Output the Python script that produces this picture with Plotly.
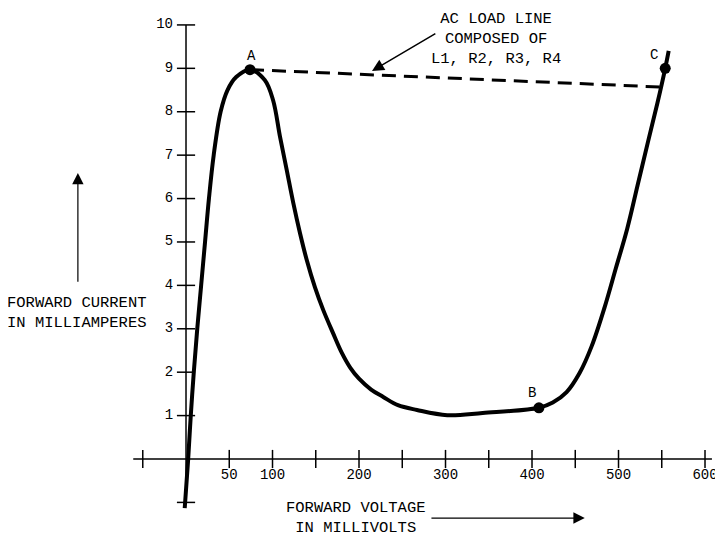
import plotly.graph_objects as go

# tunnel diode forward characteristic
voltage_mv = [-1.5, 2.5, 5.5, 9, 13, 17.5, 22, 26.5, 32, 40, 48, 58, 74, 91, 100.6, 108.7,
              116.4, 124, 131.8, 139.5, 149, 158.7, 170, 180, 190, 200, 214, 228, 245, 267,
              302, 343, 408, 424, 440, 455, 469, 484, 497, 510, 522, 534, 545, 554, 558]
current_ma = [-1.13, 0, 1, 2, 3, 4, 5, 6, 7, 8, 8.5, 8.8, 8.97, 8.73, 8.27, 7.42,
              6.66, 5.9, 5.2, 4.59, 3.96, 3.43, 2.9, 2.45, 2.1, 1.85, 1.6, 1.43, 1.24, 1.13,
              1.01, 1.06, 1.18, 1.3, 1.54, 1.98, 2.6, 3.5, 4.4, 5.3, 6.3, 7.3, 8.2, 9.0, 9.4]

# operating points
point_names = ["A", "B", "C"]
point_v = [74, 408, 554]
point_i = [8.97, 1.18, 9.0]

# ac load line
load_v = [74, 548]
load_i = [8.97, 8.57]

# axis extents and ticks
x_axis_span = [-61, 608]
y_axis_span = [-1, 10]
x_tick_vals = [-50, 50, 100, 150, 200, 250, 300, 350, 400, 450, 500, 550, 600]
x_label_vals = [50, 100, 200, 300, 400, 500, 600]
x_label_text = ["50", "100", "200", "300", "400", "500", "600"]
y_tick_vals = [-1, 1, 2, 3, 4, 5, 6, 7, 8, 9, 10]
y_label_vals = [1, 2, 3, 4, 5, 6, 7, 8, 9, 10]
y_label_text = ["1", "2", "3", "4", "5", "6", "7", "8", "9", "10"]

FONT = "Liberation Mono"
INK = "black"

fig = go.Figure()

# hand-drawn style axes crossing at the origin
fig.add_trace(go.Scatter(x=x_axis_span, y=[0, 0], mode="lines",
                         line=dict(color=INK, width=1.5)))
fig.add_trace(go.Scatter(x=[0, 0], y=y_axis_span, mode="lines",
                         line=dict(color=INK, width=1.5)))
fig.add_trace(go.Scatter(x=x_tick_vals, y=[0] * len(x_tick_vals), mode="markers",
                         marker=dict(symbol="line-ns", size=13,
                                     line=dict(color=INK, width=1.5))))
fig.add_trace(go.Scatter(x=[0] * len(y_tick_vals), y=y_tick_vals, mode="markers",
                         marker=dict(symbol="line-ew", size=13,
                                     line=dict(color=INK, width=1.5))))
fig.add_trace(go.Scatter(x=x_label_vals, y=[-0.38] * len(x_label_vals), mode="text",
                         text=x_label_text, textposition="middle center", cliponaxis=False,
                         textfont=dict(family=FONT, size=14, color=INK)))
fig.add_trace(go.Scatter(x=[-15] * len(y_label_vals), y=y_label_vals, mode="text",
                         text=y_label_text, textposition="middle left", cliponaxis=False,
                         textfont=dict(family=FONT, size=14, color=INK)))

# characteristic curve
fig.add_trace(go.Scatter(x=voltage_mv, y=current_ma, mode="lines",
                         line=dict(color=INK, width=4, shape="spline", smoothing=1.0)))

# load line
fig.add_trace(go.Scatter(x=load_v, y=load_i, mode="lines",
                         line=dict(color=INK, width=3, dash="14px,8px")))

# points A, B, C
fig.add_trace(go.Scatter(x=point_v, y=point_i, mode="markers",
                         marker=dict(color=INK, size=11)))

txt = dict(family=FONT, size=14, color=INK)
big = dict(family=FONT, size=15.5, color=INK)
annotations = [
    dict(x=76, y=9.29, text="A", showarrow=False, font=txt),
    dict(x=400, y=1.52, text="B", showarrow=False, font=txt),
    dict(x=541, y=9.31, text="C", showarrow=False, font=txt),
    dict(x=358, y=9.68, text="AC LOAD LINE<br>COMPOSED OF<br>L1, R2, R3, R4",
         showarrow=False, font=big, align="center"),
    dict(x=215, y=8.94, ax=290, ay=9.82, axref="x", ayref="y", text="",
         showarrow=True, arrowhead=2, arrowsize=1.6, arrowwidth=1.5, arrowcolor=INK),
    dict(x=196, y=-1.36, text="FORWARD VOLTAGE<br>IN MILLIVOLTS",
         showarrow=False, font=big, align="center"),
    dict(x=461, y=-1.36, ax=282, ay=-1.36, axref="x", ayref="y", text="",
         showarrow=True, arrowhead=2, arrowsize=1.9, arrowwidth=1.2, arrowcolor=INK),
    dict(x=-126, y=3.36, text="FORWARD CURRENT<br>IN MILLIAMPERES",
         showarrow=False, font=big, align="center"),
    dict(x=-125, y=6.59, ax=-125, ay=4.05, axref="x", ayref="y", text="",
         showarrow=True, arrowhead=2, arrowsize=1.9, arrowwidth=1.2, arrowcolor=INK),
]

# page body has an 8px margin, so the figure is sized and ranged to sit on it
fig.update_layout(
    width=715, height=532,
    margin=dict(l=0, r=0, t=0, b=0),
    paper_bgcolor="white", plot_bgcolor="white",
    showlegend=False,
    xaxis=dict(range=[-205.8, 620.8], visible=False),
    yaxis=dict(range=[-1.866, 10.39], visible=False),
    annotations=annotations,
)

fig.write_html("out.html")
